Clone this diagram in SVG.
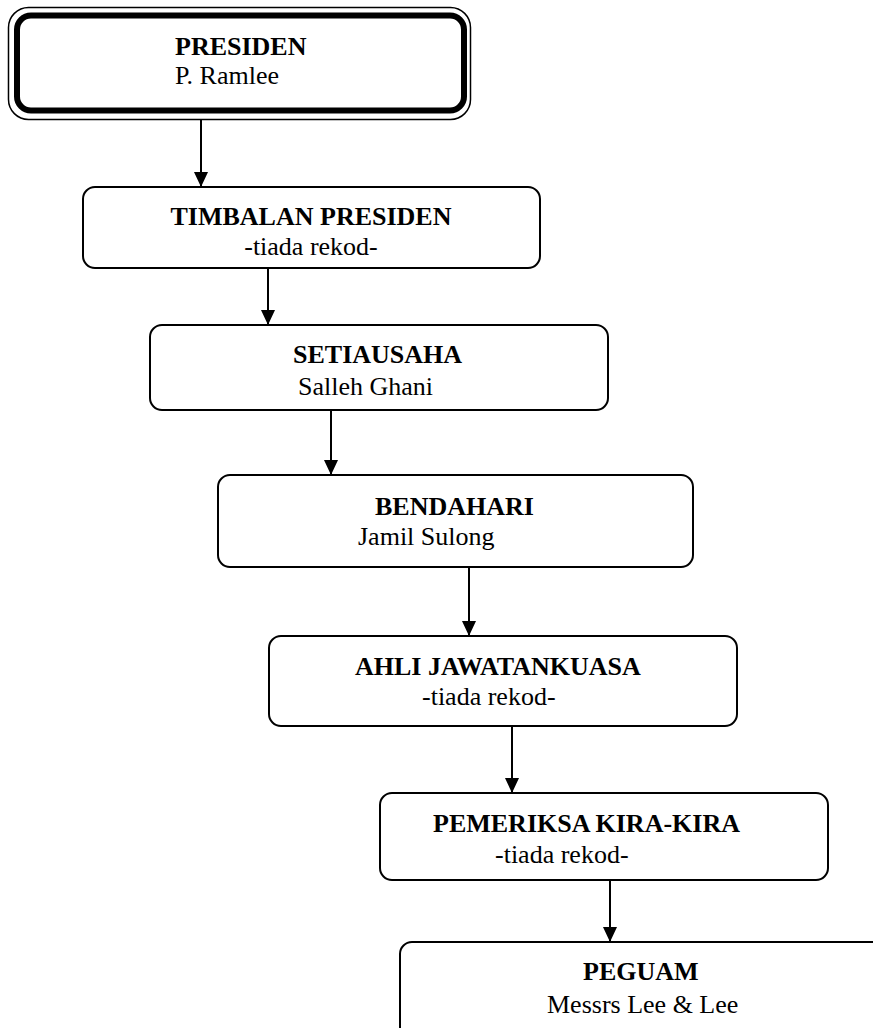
<svg xmlns="http://www.w3.org/2000/svg" width="873" height="1028" viewBox="0 0 873 1028">
<style>
.box{fill:#fff;stroke:#000;stroke-width:2}
.t{font-family:"Liberation Serif","Times New Roman",serif;font-size:26px;fill:#000}
.b{font-weight:bold}
.c{stroke:#000;stroke-width:2;fill:none;marker-end:url(#ah)}
</style>
<defs>
<marker id="ah" viewBox="0 0 15 14" refX="15" refY="7" markerWidth="15" markerHeight="14" markerUnits="userSpaceOnUse" orient="auto">
<path d="M0,0 L15,7 L0,14 z" fill="#000"/>
</marker>
</defs>
<rect width="873" height="1028" fill="#fff"/>
<g id="connectors">
<line class="c" x1="201" y1="120" x2="201" y2="187"/>
<line class="c" x1="268" y1="268" x2="268" y2="325"/>
<line class="c" x1="331" y1="410" x2="331" y2="475"/>
<line class="c" x1="469" y1="567" x2="469" y2="636"/>
<line class="c" x1="512" y1="726" x2="512" y2="793"/>
<line class="c" x1="610" y1="880" x2="610" y2="942"/>
</g>
<g id="presiden">
<rect x="8.5" y="7.5" width="462" height="112" rx="20" fill="#fff" stroke="#000" stroke-width="1.5"/>
<rect x="17" y="15.5" width="447" height="95" rx="14" fill="none" stroke="#000" stroke-width="6"/>
<text class="t b" x="175" y="55">PRESIDEN</text>
<text class="t" x="175" y="84">P. Ramlee</text>
</g>
<g id="timbalan">
<rect class="box" x="83" y="187" width="457" height="81" rx="12"/>
<text class="t b" x="311" y="225" text-anchor="middle">TIMBALAN PRESIDEN</text>
<text class="t" x="311" y="255" text-anchor="middle">-tiada rekod-</text>
</g>
<g id="setiausaha">
<rect class="box" x="150" y="325" width="458" height="85" rx="12"/>
<text class="t b" x="293" y="363">SETIAUSAHA</text>
<text class="t" x="298" y="395">Salleh Ghani</text>
</g>
<g id="bendahari">
<rect class="box" x="218" y="475" width="475" height="92" rx="12"/>
<text class="t b" x="375" y="515">BENDAHARI</text>
<text class="t" x="358" y="545">Jamil Sulong</text>
</g>
<g id="ahli">
<rect class="box" x="269" y="636" width="468" height="90" rx="12"/>
<text class="t b" x="355" y="675">AHLI JAWATANKUASA</text>
<text class="t" x="422" y="705">-tiada rekod-</text>
</g>
<g id="pemeriksa">
<rect class="box" x="380" y="793" width="448" height="87" rx="12"/>
<text class="t b" x="433" y="832">PEMERIKSA KIRA-KIRA</text>
<text class="t" x="495" y="863">-tiada rekod-</text>
</g>
<g id="peguam">
<rect class="box" x="400" y="942" width="490" height="100" rx="12"/>
<text class="t b" x="583" y="980">PEGUAM</text>
<text class="t" x="547" y="1013">Messrs Lee &amp; Lee</text>
</g>
</svg>
